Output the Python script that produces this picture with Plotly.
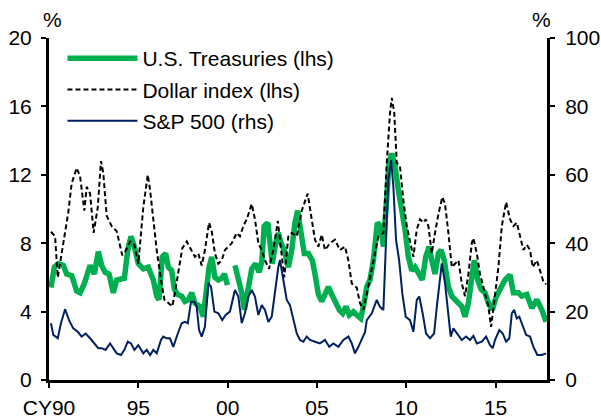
import plotly.graph_objects as go

# decimal years
ust_x = [1990.11, 1990.30, 1990.52, 1990.80, 1990.99, 1991.27, 1991.55, 1991.74, 1991.98, 1992.17,
         1992.30, 1992.54, 1992.76, 1992.95, 1993.14, 1993.36, 1993.60, 1993.79, 1994.03, 1994.22,
         1994.41, 1994.59, 1994.78, 1995.00, 1995.28, 1995.56, 1995.84, 1996.03, 1996.16, 1996.34,
         1996.53, 1996.68, 1996.87, 1997.02, 1997.21, 1997.43, 1997.61, 1997.80, 1997.99, 1998.17,
         1998.45, 1998.64, 1998.77, 1998.96, 1999.11, 1999.29, 1999.48, 1999.67, 1999.82, 1999.99,
         2000.20,
         2000.41, 2000.60, 2000.79, 2000.94, 2001.13, 2001.35, 2001.57, 2001.76, 2001.91, 2002.05,
         2002.25, 2002.37, 2002.50, 2002.69, 2002.84, 2002.99, 2003.17, 2003.40, 2003.59, 2003.77,
         2003.92, 2004.11, 2004.29, 2004.52, 2004.74, 2004.89, 2005.08, 2005.27, 2005.45, 2005.64,
         2005.83, 2006.07, 2006.25, 2006.44, 2006.63, 2006.81, 2007.04, 2007.23, 2007.45, 2007.64,
         2007.79, 2007.97, 2008.16, 2008.38, 2008.57, 2008.72, 2008.91, 2009.04, 2009.19, 2009.37,
         2009.56, 2009.75, 2009.93, 2010.12, 2010.31, 2010.49, 2010.72, 2010.90, 2011.09, 2011.28,
         2011.43, 2011.61, 2011.80, 2011.95, 2012.13, 2012.36, 2012.55, 2012.73, 2012.92, 2013.11,
         2013.29, 2013.48, 2013.67, 2013.81, 2014.00, 2014.19, 2014.41, 2014.60, 2014.82, 2015.01,
         2015.25, 2015.53, 2015.81, 2016.00, 2016.28, 2016.47, 2016.75, 2017.03, 2017.31, 2017.59,
         2017.83]
ust_vol = [5.4, 6.6, 6.8, 6.7, 6.2, 6.1, 5.2, 5.1, 5.65, 6.3,
           6.7, 6.2, 7.5, 6.7, 6.3, 6.2, 5.1, 5.85, 5.95, 5.95,
           7.6, 8.4, 7.8, 6.8, 6.5, 6.6, 5.85, 4.9, 4.7, 7.2,
           7.4, 6.6, 6.4, 5.3, 5.0, 4.9, 4.6, 4.7, 5.1, 4.5,
           4.3, 3.7, 4.9, 6.6, 7.2, 6.0, 5.85, 5.95, 6.2, 5.55,
           None,
           6.7, 6.0, 5.1, 4.1, 5.45, 6.5, 6.8, 6.3, 6.9, 9.0,
           9.2, 7.8, 6.8, 8.0, 8.6, 8.0, 7.6, 6.6, 7.6, 9.2,
           9.9, 8.6, 7.4, 7.4, 7.0, 6.2, 5.0, 4.6, 5.1, 5.45,
           5.0, 4.5, 4.1, 3.9, 4.3, 3.8, 4.0, 3.8, 3.6, 4.5,
           5.45, 5.85, 7.0, 9.2, 9.0, 7.8, 11.1, 12.7, 13.25, 12.5,
           11.1, 10.1, 8.8, 7.2, 6.4, 6.6, 6.2, 5.85, 7.2, 7.8,
           7.0, 6.2, 7.4, 7.6, 7.0, 5.45, 4.9, 4.7, 4.5, 4.3,
           3.7, 4.5, 6.0, 7.0, 5.85, 5.3, 5.1, 4.5, 4.1, 4.8,
           5.3, 5.85, 6.15, 5.1, 5.1, 4.9, 5.0, 4.2, 4.7, 4.1,
           3.4]

dxy_x = [1990.11, 1990.34, 1990.49, 1990.71, 1991.08, 1991.27, 1991.55, 1991.74, 1991.98, 1992.11,
         1992.30, 1992.50, 1992.73, 1992.91, 1993.04, 1993.23, 1993.51, 1993.79, 1994.10, 1994.26,
         1994.54, 1994.78, 1995.00, 1995.28, 1995.53, 1995.66, 1995.84, 1996.03, 1996.27, 1996.46,
         1996.68, 1996.90, 1997.05, 1997.24, 1997.46, 1997.71, 1997.99, 1998.17, 1998.36, 1998.55,
         1998.73, 1998.96, 1999.11, 1999.29, 1999.48, 1999.67, 1999.85, 2000.23, 2000.51, 2000.69,
         2000.88, 2001.07, 2001.35, 2001.53, 2001.72, 2001.91, 2002.09, 2002.32, 2002.56, 2002.81,
         2002.93, 2003.17, 2003.40, 2003.59, 2003.87, 2004.15, 2004.48, 2004.67, 2004.89, 2005.08,
         2005.27, 2005.45, 2005.73, 2006.01, 2006.29, 2006.57, 2006.76, 2006.95, 2007.23, 2007.41,
         2007.60, 2007.88, 2008.16, 2008.44, 2008.72, 2008.91, 2009.09, 2009.19, 2009.33, 2009.47,
         2009.65, 2009.84, 2010.03, 2010.21, 2010.40, 2010.59, 2010.77, 2010.96, 2011.09, 2011.24,
         2011.43, 2011.61, 2011.80, 2012.02, 2012.17, 2012.36, 2012.55, 2012.73, 2012.92, 2013.11,
         2013.29, 2013.48, 2013.67, 2013.76, 2013.95, 2014.13, 2014.41, 2014.60, 2014.75, 2014.93,
         2015.16, 2015.35, 2015.59, 2015.81, 2016.00, 2016.19, 2016.37, 2016.56, 2016.75, 2016.93,
         2017.08, 2017.31, 2017.49, 2017.68, 2017.83]
dxy_vol = [8.67, 8.4, 6.0, 7.4, 9.8, 11.5, 12.4, 11.9, 9.9, 11.3,
           10.9, 8.6, 10.1, 12.8, 12.1, 9.6, 9.0, 8.7, 7.3, 7.5,
           8.1, 7.9, 6.8, 10.1, 12.0, 11.1, 9.2, 7.6, 5.85, 4.7,
           4.5, 4.3, 5.1, 6.2, 7.7, 8.1, 7.6, 7.2, 7.4, 6.7,
           7.6, 9.2, 8.7, 7.4, 6.8, 7.0, 7.6, 8.0, 8.6, 8.4,
           9.0, 9.4, 10.3, 9.4, 8.0, 7.6, 7.0, 6.5, 7.6, 9.3,
           8.2, 6.0, 8.4, 8.6, 8.4, 9.9, 10.9, 9.7, 8.2, 7.8,
           8.5, 7.6, 8.0, 8.2, 7.6, 7.8, 7.0, 5.65, 5.4, 4.5,
           4.1, 5.5, 7.0, 8.4, 8.6, 12.7, 15.6, 16.5, 15.6, 12.7,
           12.5, 10.5, 9.0, 8.2, 7.2, 8.8, 9.4, 9.2, 9.4, 9.0,
           7.4, 8.6, 9.7, 10.7, 10.3, 8.6, 6.6, 6.8, 7.0, 5.65,
           4.9, 6.2, 8.0, 8.3, 7.4, 6.2, 5.1, 4.3, 3.1, 4.7,
           6.6, 9.0, 10.4, 9.4, 9.0, 9.2, 8.4, 7.6, 7.9, 7.6,
           6.6, 7.0, 6.4, 5.75, 5.6]

spx_x = [1990.11, 1990.24, 1990.49, 1990.67, 1990.90, 1991.12, 1991.36, 1991.61, 1991.83, 1992.05,
         1992.30, 1992.54, 1992.76, 1992.95, 1993.17, 1993.42, 1993.60, 1993.79, 1994.03, 1994.22,
         1994.41, 1994.59, 1994.78, 1995.00, 1995.28, 1995.47, 1995.66, 1995.84, 1996.03, 1996.27,
         1996.40, 1996.59, 1996.77, 1996.96, 1997.21, 1997.43, 1997.61, 1997.77, 1997.95, 1998.14,
         1998.27, 1998.40, 1998.55, 1998.73, 1998.92, 1999.07, 1999.26, 1999.48, 1999.70, 1999.89,
         2000.13, 2000.41, 2000.60, 2000.79, 2000.97, 2001.16, 2001.35, 2001.53, 2001.72, 2001.91,
         2002.09, 2002.28, 2002.47, 2002.65, 2002.84, 2002.93, 2003.12, 2003.31, 2003.49, 2003.68,
         2003.87, 2004.05, 2004.24, 2004.43, 2004.61, 2004.89, 2005.17, 2005.45, 2005.69, 2005.92,
         2006.20, 2006.48, 2006.76, 2006.95, 2007.13, 2007.32, 2007.51, 2007.69, 2007.79, 2008.07,
         2008.35, 2008.53, 2008.72, 2008.85, 2009.00, 2009.15, 2009.28, 2009.43, 2009.60, 2009.78,
         2009.97, 2010.21, 2010.40, 2010.59, 2010.73, 2010.92, 2011.11, 2011.33, 2011.56, 2011.71,
         2011.99, 2012.17, 2012.36, 2012.49, 2012.64, 2012.83, 2013.11, 2013.35, 2013.57, 2013.76,
         2013.95, 2014.23, 2014.47, 2014.69, 2014.84, 2014.97, 2015.21, 2015.40, 2015.59, 2015.77,
         2015.91, 2016.04, 2016.19, 2016.33, 2016.52, 2016.71, 2016.93, 2017.12, 2017.34, 2017.59,
         2017.83]
spx_vol = [16.6, 13.2, 12.2, 16.6, 20.7, 17.5, 15.1, 14.1, 12.7, 13.6,
           12.2, 10.7, 9.3, 9.3, 8.8, 10.7, 9.3, 7.8, 7.3, 8.8,
           11.2, 10.7, 8.8, 10.2, 7.8, 8.8, 7.3, 8.8, 7.8, 11.7,
           12.7, 12.2, 12.2, 9.7, 13.6, 16.6, 17.0, 16.6, 22.9, 22.9,
           21.4, 14.6, 12.7, 15.6, 28.3, 27.3, 20.0, 19.5, 17.5, 19.0,
           20.0, 26.3, 24.4, 16.6, 19.5, 24.4, 26.3, 24.4, 19.0, 21.9,
           20.5, 17.0, 18.5, 26.3, 33.1, 35.1, 29.2, 23.4, 21.9, 17.5,
           13.6, 11.7, 11.2, 12.7, 11.7, 11.2, 10.7, 11.7, 9.7, 10.7,
           9.7, 11.7, 12.7, 10.7, 7.8, 9.7, 11.7, 14.0, 17.5, 19.5,
           23.4, 21.4, 20.5, 39.0, 58.5, 64.3, 56.5, 40.9, 35.1, 25.3,
           18.5, 17.5, 14.1, 23.4, 24.4, 19.5, 13.6, 12.2, 13.6, 21.4,
           34.1, 28.3, 18.5, 12.7, 15.1, 13.6, 11.7, 12.7, 11.7, 12.9,
           10.7, 11.2, 12.7, 10.2, 9.3, 11.7, 14.6, 13.6, 11.2, 12.2,
           19.5, 20.5, 18.0, 18.5, 16.1, 13.2, 12.7, 9.7, 7.3, 7.3,
           7.8]

x_ticks = [1990, 1995, 2000, 2005, 2010, 2015]
x_labels = ["CY90", "95", "00", "05", "10", "15"]

font = dict(family="Liberation Sans, Arial, sans-serif", size=21, color="black")

fig = go.Figure()
fig.add_trace(go.Scatter(x=ust_x, y=ust_vol, name="U.S. Treasuries (lhs)", mode="lines",
                         line=dict(color="#00b050", width=5.5), connectgaps=False,
                         legendgroup="a"))
fig.add_trace(go.Scatter(x=dxy_x, y=dxy_vol, name="Dollar index (lhs)", mode="lines",
                         line=dict(color="black", width=2, dash="5px,3px"),
                         legendgroup="b"))
fig.add_trace(go.Scatter(x=spx_x, y=spx_vol, name="S&P 500 (rhs)", mode="lines",
                         line=dict(color="#002060", width=2), yaxis="y2",
                         legendgroup="c"))

axis_common = dict(showgrid=False, zeroline=False, showline=True, linecolor="black",
                   linewidth=3, ticks="outside", ticklen=5, tickwidth=1.5, tickcolor="black",
                   tickfont=font, automargin=False)

fig.update_layout(
    width=601, height=419,
    margin=dict(l=49, r=54, t=38, b=39, autoexpand=False),
    paper_bgcolor="white", plot_bgcolor="white",
    font=font,
    showlegend=True,
    legend=dict(x=0.027, y=1.0, xanchor="left", yanchor="top", bgcolor="rgba(0,0,0,0)",
                itemwidth=70, tracegroupgap=1, font=font),
    xaxis=dict(range=[1990, 2017.88], tickvals=x_ticks, ticktext=x_labels,
               ticklabelstandoff=2, **axis_common),
    yaxis=dict(range=[0, 20], tickvals=[0, 4, 8, 12, 16, 20], ticklabelstandoff=5,
               **axis_common),
    yaxis2=dict(range=[0, 100], tickvals=[0, 20, 40, 60, 80, 100], overlaying="y",
                side="right", ticklabelstandoff=6, **axis_common),
    annotations=[
        dict(text="%", xref="paper", yref="paper", x=0.0, y=1.0, xanchor="center",
             yanchor="bottom", yshift=5, xshift=3, showarrow=False, font=font),
        dict(text="%", xref="paper", yref="paper", x=1.0, y=1.0, xanchor="center",
             yanchor="bottom", yshift=5, xshift=-6, showarrow=False, font=font),
    ],
)

fig.write_html("out.html", config={"displayModeBar": False},
               post_script="document.body.style.margin='0px';")
